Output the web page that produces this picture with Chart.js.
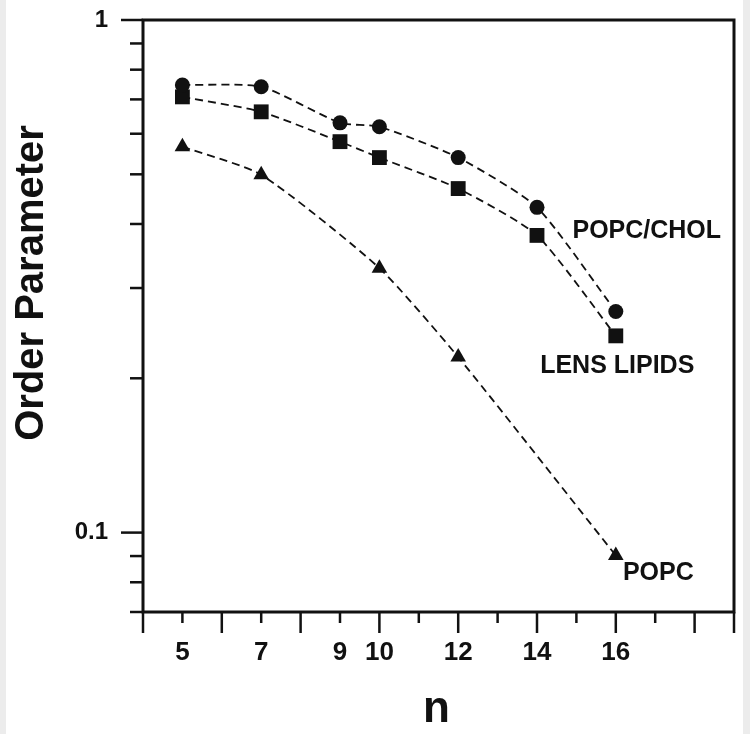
<!DOCTYPE html>
<html>
<head>
<meta charset="utf-8">
<script src="https://cdn.jsdelivr.net/npm/chart.js@4"></script>
<style>
  html, body { margin: 0; padding: 0; background: #fff; }
  canvas { display: block; }
</style>
</head>
<body>
<canvas id="orderChart" width="750" height="734"></canvas>
<script>
// chain position n
const nAll = [5, 7, 9, 10, 12, 14, 16];
const nPopc = [5, 7, 10, 12, 16];

// order parameter values
const popcCholValues = [0.747, 0.741, 0.630, 0.619, 0.539, 0.431, 0.270];
const lensLipidValues = [0.708, 0.662, 0.579, 0.539, 0.469, 0.380, 0.242];
const popcValues = [0.566, 0.499, 0.328, 0.220, 0.0902];

// ticks
const xTicks = [4, 5, 6, 7, 8, 9, 10, 11, 12, 13, 14, 15, 16, 17, 18, 19];
const xLabelled = [5, 7, 9, 10, 12, 14, 16];
const yTicks = [0.07, 0.08, 0.09, 0.1, 0.2, 0.3, 0.4, 0.5, 0.6, 0.7, 0.8, 0.9, 1];
const yLabelled = [0.1, 1];

// curve labels, placed in data units
const curveLabels = [
  { text: 'POPC/CHOL', n: 14.9, s: 0.387 },
  { text: 'LENS LIPIDS', n: 14.08, s: 0.211 },
  { text: 'POPC', n: 16.18, s: 0.0832 }
];

const FONT = '"Liberation Sans", Arial, sans-serif';

function toPoints(xs, ys) {
  return xs.map((x, i) => ({ x: x, y: ys[i] }));
}

const frameAndText = {
  id: 'frameAndText',
  beforeDraw(chart) {
    const ctx = chart.ctx;
    ctx.save();
    ctx.fillStyle = '#fff';
    ctx.fillRect(0, 0, chart.width, chart.height);
    ctx.fillStyle = '#ececec';
    ctx.fillRect(0, 0, 6, chart.height);
    ctx.fillRect(743, 0, 7, chart.height);
    ctx.restore();
  },
  afterDraw(chart) {
    const ctx = chart.ctx;
    const a = chart.chartArea;
    const xs = chart.scales.x;
    const ys = chart.scales.y;
    ctx.save();
    ctx.strokeStyle = '#111';
    ctx.lineWidth = 3;
    ctx.strokeRect(a.left, a.top, a.right - a.left, a.bottom - a.top);

    ctx.lineWidth = 2.5;
    xTicks.forEach(v => {
      const px = xs.getPixelForValue(v);
      const len = (v % 2 === 0 || v === xs.max) ? 21 : 11;
      ctx.beginPath();
      ctx.moveTo(px, a.bottom);
      ctx.lineTo(px, a.bottom + len);
      ctx.stroke();
    });
    yTicks.forEach(v => {
      const py = ys.getPixelForValue(v);
      const len = yLabelled.includes(v) ? 22 : 13;
      ctx.beginPath();
      ctx.moveTo(a.left, py);
      ctx.lineTo(a.left - len, py);
      ctx.stroke();
    });

    ctx.fillStyle = '#111';
    ctx.font = 'bold 25px ' + FONT;
    ctx.textAlign = 'left';
    ctx.textBaseline = 'middle';
    curveLabels.forEach(l => {
      ctx.fillText(l.text, xs.getPixelForValue(l.n), ys.getPixelForValue(l.s));
    });

    // axis titles
    ctx.font = 'bold 44px ' + FONT;
    ctx.textAlign = 'center';
    ctx.textBaseline = 'alphabetic';
    ctx.fillText('n', (a.left + a.right) / 2 - 2, 722);

    ctx.font = 'bold 40px ' + FONT;
    ctx.translate(43, 283);
    ctx.rotate(-Math.PI / 2);
    ctx.fillText('Order Parameter', 0, 0);
    ctx.restore();
  }
};

function series(label, xs, ys, style, radius) {
  return {
    label: label,
    data: toPoints(xs, ys),
    showLine: true,
    borderColor: '#111',
    borderWidth: 1.8,
    borderDash: [8, 5],
    tension: 0.2,
    pointStyle: style,
    pointRadius: radius,
    pointBackgroundColor: '#111',
    pointBorderColor: '#111',
    pointBorderWidth: 0
  };
}

new Chart(document.getElementById('orderChart').getContext('2d'), {
  type: 'scatter',
  data: {
    datasets: [
      series('POPC/CHOL', nAll, popcCholValues, 'circle', 7.5),
      series('LENS LIPIDS', nAll, lensLipidValues, 'rect', 10.5),
      series('POPC', nPopc, popcValues, 'triangle', 9)
    ]
  },
  options: {
    responsive: false,
    devicePixelRatio: 1,
    animation: false,
    layout: { padding: { left: 0, right: 16, top: 20, bottom: 0 } },
    plugins: { legend: { display: false }, tooltip: { enabled: false } },
    scales: {
      x: {
        type: 'linear',
        min: 4,
        max: 19,
        afterBuildTicks: s => { s.ticks = xTicks.map(v => ({ value: v })); },
        afterFit: s => {
          s.height = 122;
          s.paddingLeft = 0; s.paddingRight = 0; s.paddingTop = 0; s.paddingBottom = 0;
        },
        grid: { display: false, drawTicks: false },
        border: { display: false },
        ticks: {
          autoSkip: false,
          maxRotation: 0,
          padding: 25,
          color: '#111',
          font: { family: FONT, size: 26, weight: 'bold' },
          callback: v => xLabelled.includes(v) ? String(v) : ''
        }
      },
      y: {
        type: 'logarithmic',
        min: 0.07,
        max: 1,
        afterBuildTicks: s => { s.ticks = yTicks.map(v => ({ value: v })); },
        afterFit: s => {
          s.width = 143;
          s.paddingLeft = 0; s.paddingRight = 0; s.paddingTop = 0; s.paddingBottom = 0;
        },
        grid: { display: false, drawTicks: false },
        border: { display: false },
        ticks: {
          autoSkip: false,
          padding: 35,
          color: '#111',
          font: { family: FONT, size: 24, weight: 'bold' },
          callback: v => yLabelled.includes(v) ? String(v) : ''
        }
      }
    }
  },
  plugins: [frameAndText]
});
</script>
</body>
</html>
